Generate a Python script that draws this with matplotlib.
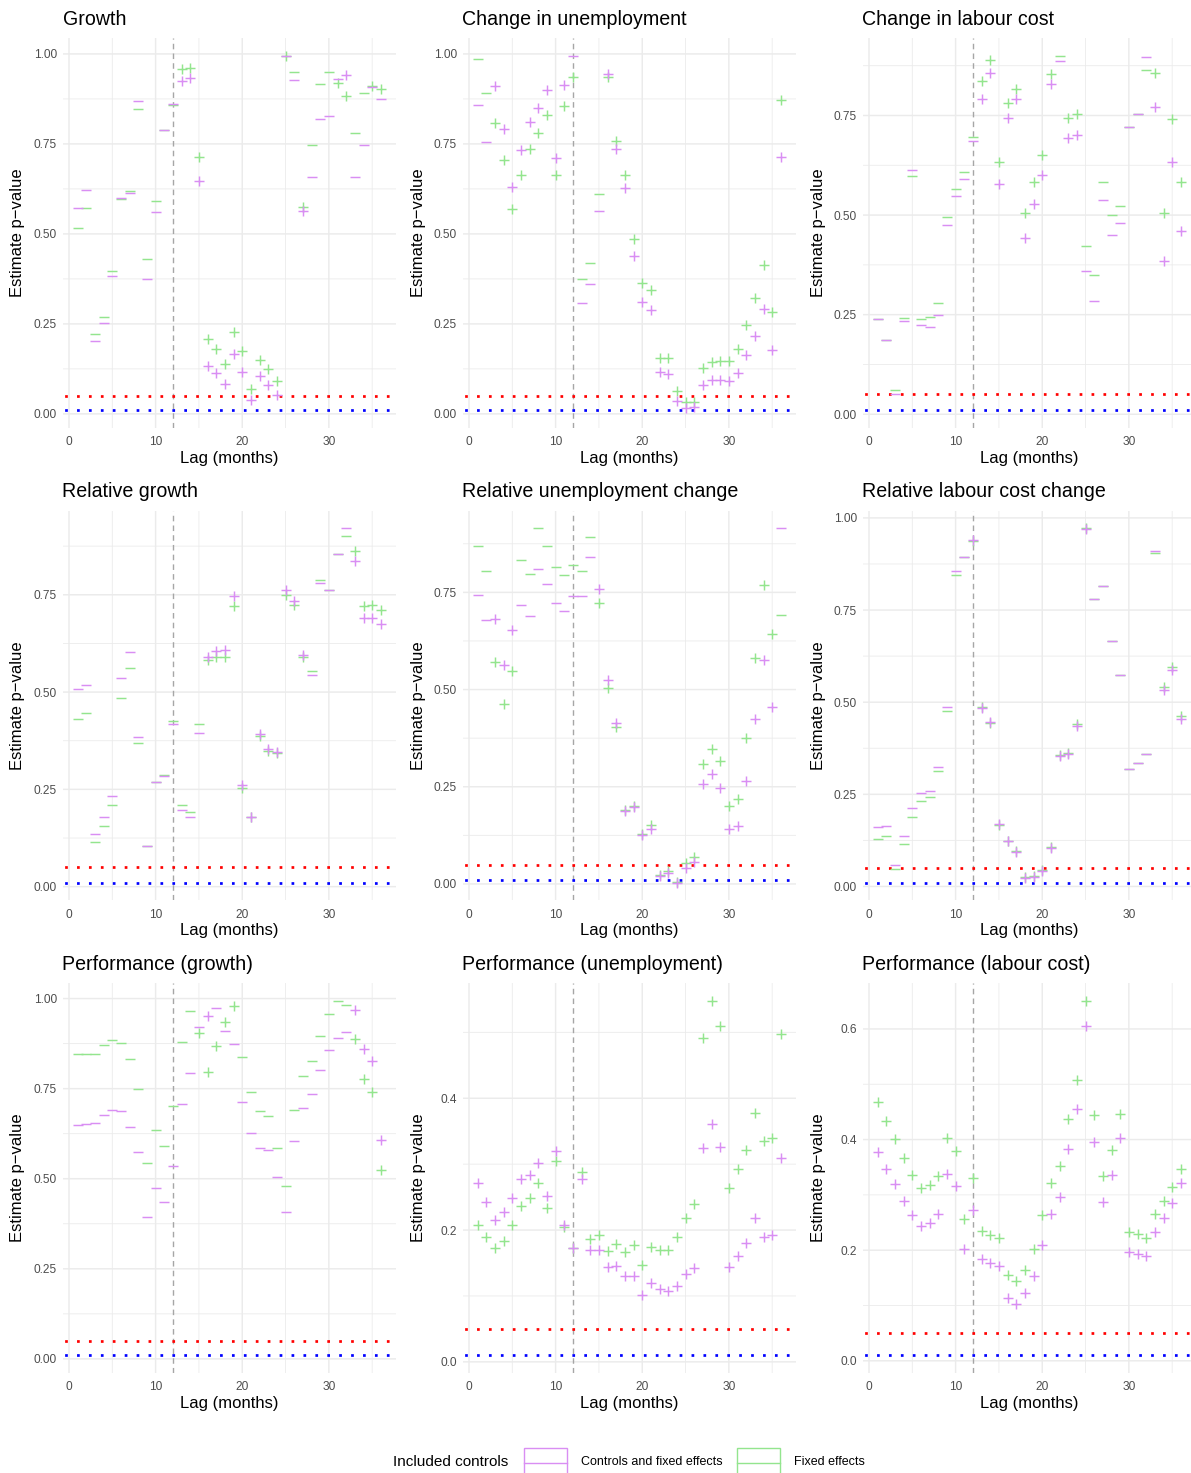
import numpy as np
import matplotlib
matplotlib.use("Agg")
import matplotlib.pyplot as plt
from matplotlib.patches import Rectangle
from matplotlib.lines import Line2D

plt.rcParams['font.family'] = ['Liberation Sans', 'DejaVu Sans']

lags = np.arange(1, 37)

titles = ["Growth", "Change in unemployment", "Change in labour cost",
          "Relative growth", "Relative unemployment change", "Relative labour cost change",
          "Performance (growth)", "Performance (unemployment)", "Performance (labour cost)"]

# p-values, "Controls and fixed effects" (ctrl) and "Fixed effects" (fe), lags 1..36
# sign strings: '+' positive estimate, '-' negative estimate
growth_ctrl = [0.571, 0.623, 0.202, 0.252, 0.382, 0.600, 0.615, 0.870, 0.376, 0.560, 0.788, 0.861,
               0.925, 0.934, 0.648, 0.134, 0.114, 0.083, 0.165, 0.117, 0.038, 0.104, 0.081, 0.053,
               0.995, 0.927, 0.565, 0.659, 0.819, 0.828, 0.930, 0.942, 0.657, 0.746, 0.909, 0.876]
growth_ctrl_sign = "------------" + "++++++++++++" + "--+" + "----" + "+" + "----"
growth_fe = [0.517, 0.573, 0.221, 0.270, 0.398, 0.596, 0.620, 0.846, 0.429, 0.592, 0.788, 0.857,
             0.958, 0.961, 0.713, 0.208, 0.179, 0.139, 0.228, 0.174, 0.070, 0.151, 0.125, 0.091,
             0.993, 0.951, 0.576, 0.746, 0.917, 0.951, 0.919, 0.883, 0.779, 0.892, 0.912, 0.902]
growth_fe_sign = "------------" + "+++++++++++++" + "-+" + "---" + "++" + "--" + "++"

unemp_ctrl = [0.857, 0.754, 0.910, 0.792, 0.630, 0.733, 0.810, 0.849, 0.899, 0.710, 0.914, 0.995,
              0.307, 0.360, 0.565, 0.943, 0.735, 0.627, 0.439, 0.311, 0.289, 0.116, 0.112, 0.037,
              0.016, 0.018, 0.081, 0.095, 0.095, 0.090, 0.114, 0.163, 0.216, 0.290, 0.177, 0.714]
unemp_ctrl_sign = "--" + "+++++++++" + "----" + "+" * 21
unemp_fe = [0.987, 0.892, 0.808, 0.706, 0.570, 0.664, 0.736, 0.780, 0.831, 0.664, 0.854, 0.935,
            0.374, 0.420, 0.610, 0.937, 0.757, 0.664, 0.487, 0.364, 0.345, 0.155, 0.154, 0.063,
            0.032, 0.032, 0.128, 0.143, 0.146, 0.146, 0.181, 0.248, 0.321, 0.414, 0.283, 0.872]
unemp_fe_sign = "--" + "++++++++++" + "---" + "+" * 21

labour_ctrl = [0.238, 0.187, 0.051, 0.233, 0.614, 0.223, 0.220, 0.250, 0.475, 0.549, 0.591, 0.687,
               0.791, 0.857, 0.577, 0.743, 0.791, 0.442, 0.527, 0.601, 0.829, 0.887, 0.693, 0.700,
               0.360, 0.285, 0.538, 0.450, 0.481, 0.722, 0.753, 0.898, 0.772, 0.384, 0.634, 0.460]
labour_ctrl_sign = "------------" + "+++++++++" + "-" + "++" + "--------" + "++++"
labour_fe = [0.238, 0.187, 0.062, 0.242, 0.597, 0.239, 0.245, 0.280, 0.495, 0.566, 0.608, 0.696,
             0.837, 0.889, 0.634, 0.781, 0.817, 0.505, 0.583, 0.651, 0.854, 0.900, 0.743, 0.753,
             0.423, 0.350, 0.583, 0.500, 0.523, 0.722, 0.753, 0.864, 0.857, 0.505, 0.741, 0.584]
labour_fe_sign = labour_ctrl_sign

relgrowth_ctrl = [0.509, 0.517, 0.135, 0.179, 0.234, 0.535, 0.604, 0.385, 0.104, 0.268, 0.284, 0.418,
                  0.197, 0.179, 0.394, 0.591, 0.606, 0.607, 0.747, 0.262, 0.179, 0.393, 0.355, 0.346,
                  0.762, 0.734, 0.596, 0.543, 0.779, 0.762, 0.854, 0.921, 0.838, 0.690, 0.690, 0.675]
relgrowth_ctrl_sign = "-" * 15 + "+" * 12 + "-----" + "++++"
relgrowth_fe = [0.430, 0.445, 0.115, 0.156, 0.209, 0.486, 0.563, 0.368, 0.104, 0.268, 0.288, 0.426,
                0.209, 0.193, 0.417, 0.582, 0.591, 0.590, 0.721, 0.254, 0.179, 0.386, 0.349, 0.343,
                0.750, 0.724, 0.589, 0.555, 0.788, 0.762, 0.854, 0.901, 0.862, 0.721, 0.724, 0.710]
relgrowth_fe_sign = relgrowth_ctrl_sign

relunemp_ctrl = [0.744, 0.680, 0.682, 0.562, 0.654, 0.717, 0.689, 0.811, 0.771, 0.722, 0.703, 0.740,
                 0.740, 0.840, 0.759, 0.524, 0.413, 0.188, 0.198, 0.125, 0.142, 0.020, 0.029, 0.003,
                 0.040, 0.057, 0.258, 0.283, 0.247, 0.142, 0.149, 0.266, 0.424, 0.577, 0.454, 0.915]
relunemp_ctrl_sign = "--" + "+++" + "-" * 9 + "+" * 21 + "-"
relunemp_fe = [0.870, 0.804, 0.572, 0.464, 0.549, 0.832, 0.797, 0.915, 0.870, 0.814, 0.794, 0.820,
               0.806, 0.893, 0.723, 0.503, 0.403, 0.190, 0.200, 0.128, 0.151, 0.022, 0.032, 0.004,
               0.055, 0.070, 0.309, 0.346, 0.316, 0.201, 0.219, 0.375, 0.580, 0.770, 0.643, 0.691]
relunemp_fe_sign = relunemp_ctrl_sign

rellabour_ctrl = [0.161, 0.165, 0.059, 0.137, 0.212, 0.253, 0.259, 0.323, 0.486, 0.855, 0.893, 0.941,
                  0.484, 0.446, 0.170, 0.122, 0.093, 0.023, 0.026, 0.042, 0.104, 0.355, 0.359, 0.435,
                  0.970, 0.780, 0.815, 0.666, 0.575, 0.319, 0.335, 0.359, 0.911, 0.532, 0.586, 0.455]
rellabour_ctrl_sign = "-" * 11 + "+" * 14 + "-" * 8 + "+++"
rellabour_fe = [0.128, 0.137, 0.047, 0.115, 0.188, 0.232, 0.242, 0.313, 0.477, 0.846, 0.893, 0.936,
                0.487, 0.443, 0.168, 0.124, 0.095, 0.025, 0.028, 0.044, 0.106, 0.357, 0.361, 0.441,
                0.972, 0.780, 0.815, 0.666, 0.575, 0.319, 0.335, 0.359, 0.905, 0.541, 0.595, 0.462]
rellabour_fe_sign = rellabour_ctrl_sign

perfgrowth_ctrl = [0.650, 0.653, 0.656, 0.678, 0.692, 0.688, 0.644, 0.573, 0.395, 0.473, 0.436, 0.536,
                   0.706, 0.794, 0.921, 0.951, 0.974, 0.911, 0.875, 0.713, 0.628, 0.586, 0.581, 0.506,
                   0.409, 0.606, 0.697, 0.736, 0.803, 0.858, 0.890, 0.906, 0.968, 0.861, 0.826, 0.607]
perfgrowth_ctrl_sign = "-" * 15 + "+" + "-" * 16 + "++++"
perfgrowth_fe = [0.845, 0.846, 0.846, 0.870, 0.886, 0.878, 0.831, 0.750, 0.544, 0.636, 0.592, 0.702,
                 0.880, 0.965, 0.904, 0.796, 0.867, 0.935, 0.979, 0.839, 0.741, 0.689, 0.673, 0.584,
                 0.481, 0.692, 0.786, 0.828, 0.897, 0.958, 0.994, 0.983, 0.888, 0.777, 0.740, 0.524]
perfgrowth_fe_sign = "-" * 14 + "+" * 5 + "-" * 13 + "++++"

perfunemp_ctrl = [0.271, 0.243, 0.216, 0.227, 0.249, 0.278, 0.284, 0.302, 0.252, 0.320, 0.208, 0.173,
                  0.278, 0.169, 0.169, 0.144, 0.146, 0.131, 0.131, 0.101, 0.119, 0.111, 0.107, 0.115,
                  0.133, 0.143, 0.324, 0.361, 0.326, 0.144, 0.161, 0.180, 0.218, 0.189, 0.193, 0.310]
perfunemp_ctrl_sign = "+" * 36
perfunemp_fe = [0.207, 0.190, 0.173, 0.183, 0.207, 0.237, 0.249, 0.272, 0.233, 0.305, 0.205, 0.173,
                0.288, 0.186, 0.192, 0.168, 0.179, 0.167, 0.177, 0.147, 0.174, 0.170, 0.170, 0.189,
                0.219, 0.240, 0.491, 0.548, 0.510, 0.264, 0.292, 0.322, 0.377, 0.335, 0.340, 0.498]
perfunemp_fe_sign = "+" * 36

perflabour_ctrl = [0.378, 0.346, 0.319, 0.289, 0.264, 0.244, 0.250, 0.266, 0.338, 0.316, 0.202, 0.272,
                   0.184, 0.177, 0.171, 0.114, 0.102, 0.122, 0.154, 0.210, 0.265, 0.296, 0.383, 0.455,
                   0.605, 0.396, 0.287, 0.336, 0.403, 0.196, 0.193, 0.190, 0.233, 0.258, 0.286, 0.322]
perflabour_ctrl_sign = "+" * 36
perflabour_fe = [0.468, 0.434, 0.401, 0.367, 0.336, 0.313, 0.317, 0.334, 0.403, 0.380, 0.257, 0.331,
                 0.234, 0.228, 0.222, 0.155, 0.144, 0.164, 0.202, 0.263, 0.322, 0.352, 0.437, 0.508,
                 0.651, 0.444, 0.334, 0.382, 0.446, 0.233, 0.230, 0.222, 0.265, 0.289, 0.314, 0.346]
perflabour_fe_sign = "+" * 36

panels = [
    (growth_ctrl, growth_ctrl_sign, growth_fe, growth_fe_sign, 0.25),
    (unemp_ctrl, unemp_ctrl_sign, unemp_fe, unemp_fe_sign, 0.25),
    (labour_ctrl, labour_ctrl_sign, labour_fe, labour_fe_sign, 0.25),
    (relgrowth_ctrl, relgrowth_ctrl_sign, relgrowth_fe, relgrowth_fe_sign, 0.25),
    (relunemp_ctrl, relunemp_ctrl_sign, relunemp_fe, relunemp_fe_sign, 0.25),
    (rellabour_ctrl, rellabour_ctrl_sign, rellabour_fe, rellabour_fe_sign, 0.25),
    (perfgrowth_ctrl, perfgrowth_ctrl_sign, perfgrowth_fe, perfgrowth_fe_sign, 0.25),
    (perfunemp_ctrl, perfunemp_ctrl_sign, perfunemp_fe, perfunemp_fe_sign, 0.2),
    (perflabour_ctrl, perflabour_ctrl_sign, perflabour_fe, perflabour_fe_sign, 0.2),
]

C_CTRL = '#D98EF3'
C_FE = '#93E58E'
GRID = '#EBEBEB'

W, H = 1191, 1473
fig = plt.figure(figsize=(W / 100, H / 100), dpi=100)

col_left = [62.5, 462.5, 862.5]
row_top = [38, 510.5, 983]
pw, ph = 333.5, 390


def draw_series(ax, vals, signs, color):
    vals = np.array(vals)
    plus = np.array([s == '+' for s in signs])
    ax.plot(lags[plus], vals[plus], ls='none', marker='+', ms=7.6, mew=1.05, color=color, zorder=4)
    ax.plot(lags[~plus], vals[~plus], ls='none', marker='_', ms=7.6, mew=1.05, color=color, zorder=4)


for i, (ctrl, ctrl_s, fe, fe_s, step) in enumerate(panels):
    r, c = divmod(i, 3)
    ax = fig.add_axes([col_left[c] / W, 1 - (row_top[r] + ph) / H, pw / W, ph / H])

    lo = min(min(ctrl), min(fe), 0.01)
    hi = max(max(ctrl), max(fe), 0.05)
    span = hi - lo
    ax.set_ylim(lo - 0.05 * span, hi + 0.05 * span)
    ax.set_xlim(1 - 0.05 * 35, 36 + 0.05 * 35)

    ymax = hi + 0.05 * span
    major = np.arange(0, ymax + 1e-9, step)
    minor = np.arange(step / 2, ymax, step)
    ax.set_yticks(major)
    ax.set_yticks(minor, minor=True)
    dec = 2 if step == 0.25 else 1
    ax.set_yticklabels([f"{v:.{dec}f}" for v in major])
    ax.set_xticks([0, 10, 20, 30])
    ax.set_xticks([5, 15, 25, 35], minor=True)

    ax.grid(which='major', color=GRID, lw=1.05, zorder=0, snap=False)
    ax.grid(which='minor', color=GRID, lw=0.6, zorder=0, snap=False)
    ax.set_axisbelow(True)
    for s in ax.spines.values():
        s.set_visible(False)
    ax.tick_params(which='both', length=0, labelsize=8.6, labelcolor='#4D4D4D')
    ax.tick_params(axis='y', pad=4)
    ax.tick_params(axis='x', pad=6)

    ax.axvline(12, color='#A6A6A6', lw=1.0, ls=(0, (4, 3)), zorder=2)
    ax.axhline(0.05, color='red', lw=1.95, ls=(3.8, (1, 3.4)), zorder=3)
    ax.axhline(0.01, color='blue', lw=1.95, ls=(3.8, (1, 3.4)), zorder=3)

    draw_series(ax, fe, fe_s, C_FE)
    draw_series(ax, ctrl, ctrl_s, C_CTRL)

    ax.set_title(titles[i], loc='left', fontsize=14.1, pad=9.5)
    ax.set_xlabel("Lag (months)", fontsize=12)
    ax.xaxis.label.set_va('center')
    ax.xaxis.set_label_coords(0.5, -30.5 / ph)
    ax.set_ylabel("Estimate p\u2212value", fontsize=12)
    ax.yaxis.label.set_va('center')
    ax.yaxis.set_label_coords(-44.5 / pw, 0.5)

# legend
fig.text(393 / W, 1 - 1462 / H, "Included controls", fontsize=11, va='center', ha='left')
for x0, col, lab in [(524, C_CTRL, "Controls and fixed effects"), (737, C_FE, "Fixed effects")]:
    fig.add_artist(Rectangle((x0 / W, 1 - 1480 / H), 43 / W, 32 / H, fill=False,
                             edgecolor=col, lw=1.0, transform=fig.transFigure))
    fig.add_artist(Line2D([x0 / W, (x0 + 43) / W], [1 - 1463 / H] * 2, color=col, lw=1.0,
                          transform=fig.transFigure))
    fig.text((x0 + 57) / W, 1 - 1462 / H, lab, fontsize=9, va='center', ha='left')

fig.savefig("out.png", dpi=100, facecolor='white')
